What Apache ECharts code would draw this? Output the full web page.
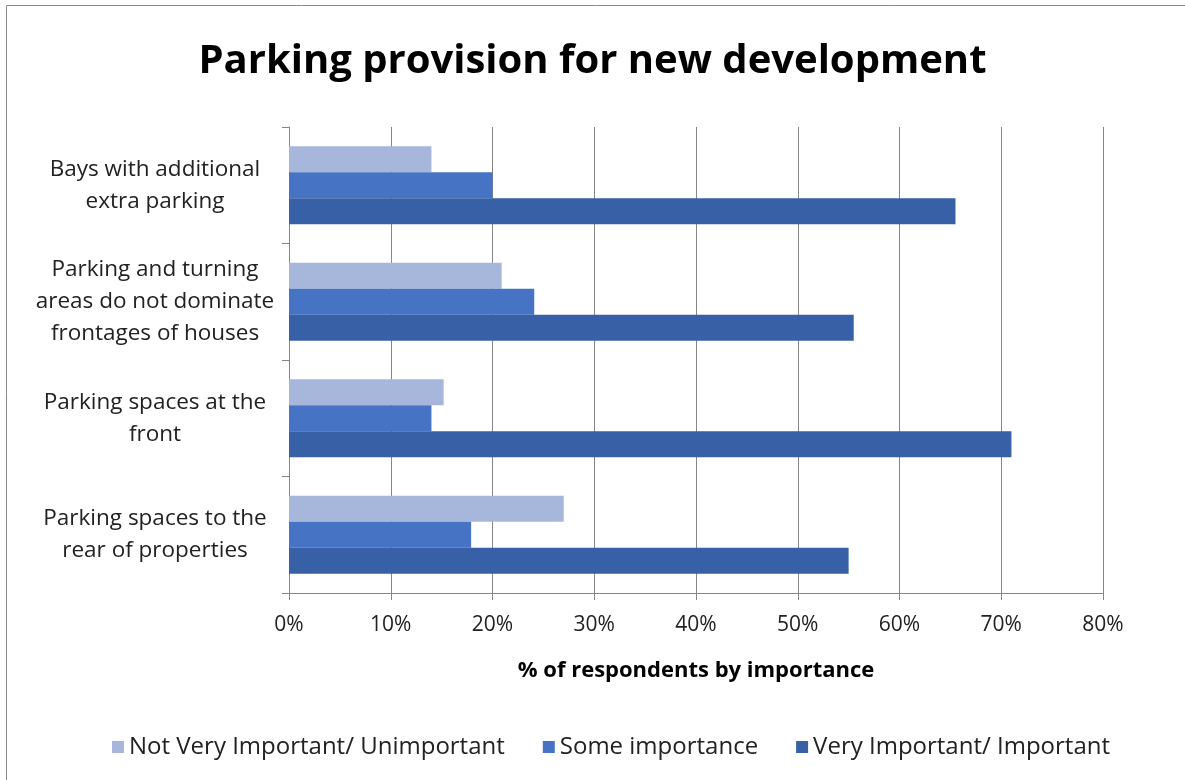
<!DOCTYPE html>
<html>
<head>
<meta charset="utf-8">
<script src="https://cdn.jsdelivr.net/npm/echarts@6/dist/echarts.min.js"></script>
<style>
  html, body { margin: 0; padding: 0; background: #fff; }
  #chart { width: 1185px; height: 780px; }
</style>
</head>
<body>
<div id="chart"></div>
<script>
// Survey categories, listed top to bottom
const categories = [
  'Bays with additional\nextra parking',
  'Parking and turning\nareas do not dominate\nfrontages of houses',
  'Parking spaces at the\nfront',
  'Parking spaces to the\nrear of properties'
];
// Share of respondents (%) for each importance level
const notImportant = [14, 20.9, 15.2, 27];
const someImportance = [20, 24.1, 14, 17.9];
const veryImportant = [65.5, 55.5, 71, 55];
const seriesNames = ['Not Very Important/ Unimportant', 'Some importance', 'Very Important/ Important'];
const xTicks = [0, 10, 20, 30, 40, 50, 60, 70, 80];

const font = '"Open Sans", "Noto Sans", sans-serif';
const colors = ['#A7B6DB', '#4673C3', '#3760A7'];

const chart = echarts.init(document.getElementById('chart'));
chart.setOption({
  animation: false,
  backgroundColor: '#fff',
  color: colors,
  title: {
    text: 'Parking provision for new development',
    left: 'center',
    top: 37,
    textStyle: { fontFamily: font, fontWeight: 'bold', fontSize: 40, color: '#000' }
  },
  graphic: [{
    type: 'rect',
    shape: { x: 6.5, y: 5.5, width: 1200, height: 800 },
    style: { fill: 'none', stroke: '#8a8a8a', lineWidth: 1 },
    silent: true
  }],
  legend: {
    data: seriesNames,
    top: 730,
    left: 107,
    itemWidth: 12,
    itemHeight: 12,
    itemGap: 38,
    icon: 'rect',
    textStyle: { fontFamily: font, fontSize: 24, color: '#222' }
  },
  grid: { left: 289, right: 82, top: 127, bottom: 187 },
  xAxis: {
    type: 'value',
    min: xTicks[0],
    max: xTicks[xTicks.length - 1],
    interval: 10,
    name: '% of respondents by importance',
    nameLocation: 'middle',
    nameGap: 67,
    nameTextStyle: { fontFamily: font, fontWeight: 'bold', fontSize: 22, color: '#000' },
    axisLine: { show: true, lineStyle: { color: '#868686' } },
    axisTick: { show: true, length: 7, lineStyle: { color: '#868686' } },
    axisLabel: { formatter: '{value}%', fontFamily: font, fontSize: 21, color: '#222', margin: 22 },
    splitLine: { show: true, lineStyle: { color: '#868686' } }
  },
  yAxis: {
    type: 'category',
    data: categories,
    inverse: true,
    axisLine: { show: true, lineStyle: { color: '#868686' } },
    axisTick: { show: true, length: 7, lineStyle: { color: '#868686' } },
    axisLabel: {
      fontFamily: font, fontSize: 22.5, color: '#222',
      align: 'center', margin: 134, lineHeight: 32
    }
  },
  series: [
    { name: seriesNames[0], type: 'bar', data: notImportant, barGap: '0%', barCategoryGap: '33%' },
    { name: seriesNames[1], type: 'bar', data: someImportance, barGap: '0%', barCategoryGap: '33%' },
    { name: seriesNames[2], type: 'bar', data: veryImportant, barGap: '0%', barCategoryGap: '33%' }
  ]
});
</script>
</body>
</html>
